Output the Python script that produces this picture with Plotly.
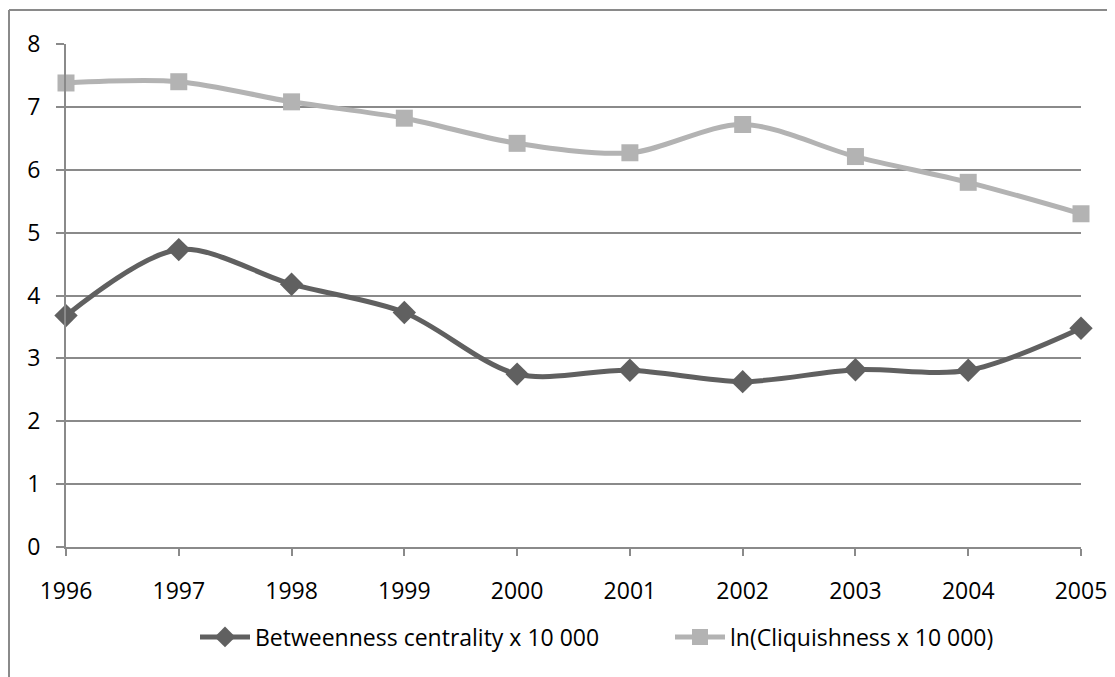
import plotly.graph_objects as go

years = [1996, 1997, 1998, 1999, 2000, 2001, 2002, 2003, 2004, 2005]
betweenness = [3.68, 4.73, 4.18, 3.73, 2.75, 2.81, 2.63, 2.82, 2.81, 3.48]
ln_cliquishness = [7.38, 7.40, 7.08, 6.82, 6.42, 6.27, 6.72, 6.21, 5.80, 5.30]
y_ticks = [0, 1, 2, 3, 4, 5, 6, 7, 8]

dark = "#606060"
light = "#b3b3b3"
grid = "#8a8a8a"
font = "Open Sans"

fig = go.Figure()
fig.add_trace(go.Scatter(
    x=years, y=betweenness, name="Betweenness centrality x 10 000",
    mode="lines+markers", line=dict(color=dark, width=5, shape="spline", smoothing=0.9),
    marker=dict(symbol="diamond", size=18, color=dark), cliponaxis=False,
    legend="legend"))
fig.add_trace(go.Scatter(
    x=years, y=ln_cliquishness, name="ln(Cliquishness x 10 000)",
    mode="lines+markers", line=dict(color=light, width=5, shape="spline", smoothing=0.9),
    marker=dict(symbol="square", size=17, color=light), cliponaxis=False,
    legend="legend2"))

# page body has an 8px margin
OFF = 8
W, H = 1115 - OFF, 677 - OFF
L, R, T, B = 66 - OFF, 34, 44 - OFF, 130
pw, ph = W - L - R, H - T - B

leg_common = dict(orientation="h", xanchor="left", yanchor="middle",
                  y=(547 - 637) / ph, font=dict(size=23), itemwidth=50,
                  bgcolor="rgba(0,0,0,0)")

fig.update_layout(
    width=W, height=H,
    margin=dict(l=L, r=R, t=T, b=B, pad=0, autoexpand=False),
    paper_bgcolor="white", plot_bgcolor="white",
    font=dict(family=font, size=23, color="#000000"),
    showlegend=True,
    legend=dict(x=(195 - 66) / pw, **leg_common),
    legend2=dict(x=(670 - 66) / pw, **leg_common),
    xaxis=dict(range=[1996, 2005], tickvals=years, ticktext=[str(y) for y in years],
               showgrid=False, showline=True, linecolor=grid, linewidth=2,
               ticks="outside", ticklen=7, tickwidth=2, tickcolor=grid,
               ticklabelstandoff=15, zeroline=False, fixedrange=True),
    yaxis=dict(range=[0, 8], tickvals=y_ticks, showgrid=True, gridcolor=grid, gridwidth=2,
               showline=True, linecolor=grid, linewidth=2,
               ticks="outside", ticklen=8, tickwidth=2, tickcolor=grid,
               ticklabelstandoff=11, zeroline=False, fixedrange=True),
    shapes=[
        dict(type="line", xref="paper", yref="paper",
             x0=(-L + 1) / pw, x1=(W + 5 - L) / pw, y0=(ph + T - 2) / ph, y1=(ph + T - 2) / ph,
             line=dict(color=grid, width=2)),
        dict(type="line", xref="paper", yref="paper",
             x0=(-L + 1) / pw, x1=(-L + 1) / pw, y0=(ph + T - 2) / ph, y1=(-B - 5) / ph,
             line=dict(color=grid, width=2)),
    ],
)

fig.write_html("out.html")
